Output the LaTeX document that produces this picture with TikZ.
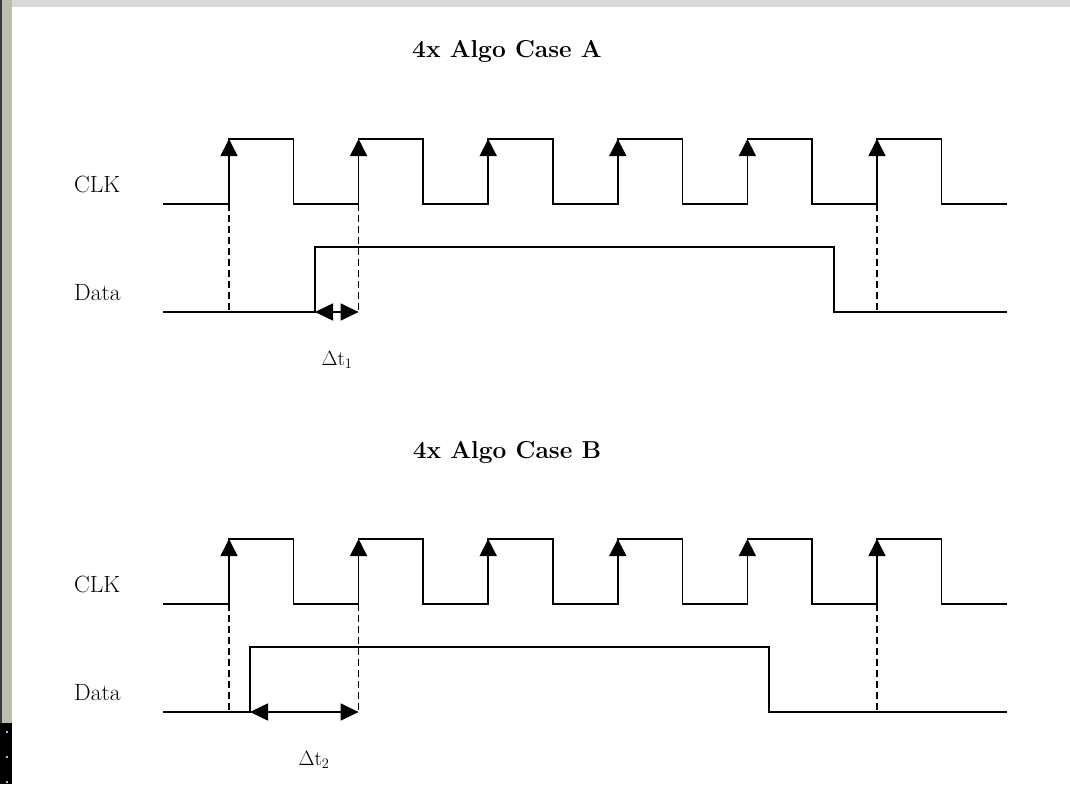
\documentclass[tikz,border=0pt]{standalone}
\usetikzlibrary{arrows.meta}
\definecolor{topband}{HTML}{D8D8D8}
\definecolor{sideband}{HTML}{BDBDAF}
\definecolor{sidedark}{HTML}{3A3A3A}
\begin{document}
\begin{tikzpicture}[x=1pt,y=-1pt,
  sig/.style={line width=1.6pt, line join=miter},
  guide/.style={line width=1.6pt, dash pattern=on 7pt off 4pt},
  edgearrow/.style={line width=1.6pt, -{Triangle[length=17pt,width=17pt]}},
  spanarrow/.style={line width=1.6pt, {Triangle[length=18pt,width=17pt]}-{Triangle[length=18pt,width=17pt]}},
  lbl/.style={font=\fontsize{23.5}{28}\selectfont, inner sep=0pt, anchor=base west},
  ttl/.style={font=\bfseries\fontsize{24.5}{29}\selectfont, inner sep=0pt, anchor=base},
  dtl/.style={font=\fontsize{21}{25}\selectfont, inner sep=0pt, anchor=base}]
\useasboundingbox (0,0) rectangle (1070,784);
\fill[white] (0,0) rectangle (1070,784);
% screenshot frame
\fill[topband] (0,0) rectangle (1070,7);
\fill[sideband] (0,0) rectangle (12,784);
\fill[sidedark] (0,0) rectangle (2,784);
\fill[black] (0,723) rectangle (12,784);
\fill[white] (7,732) circle (1.2pt) (7,757) circle (1.2pt) (7,782) circle (1.2pt);

\foreach \p/\oy/\dr/\df/\s/\dx in {A/0/315/834/1/337, B/400/250/769/2/314} {
  % title and labels
  \node[ttl] (\p-title) at (507,{58+\oy}) {4x Algo Case \p};
  \node[lbl] (\p-clk) at (74,{192+\oy}) {CLK};
  \node[lbl] (\p-data) at (74,{300+\oy}) {Data};
  % clock waveform
  \draw[sig] (163,{204+\oy})
    \foreach \k in {0,...,5} {
      -- ({229+129.6*\k},{204+\oy}) -- ({229+129.6*\k},{139+\oy})
      -- ({293.5+129.6*\k},{139+\oy}) -- ({293.5+129.6*\k},{204+\oy})
    } -- (1007,{204+\oy});
  \foreach \k in {0,...,5} {
    \coordinate (\p-r\k-lo) at ({229+129.6*\k},{204+\oy});
    \coordinate (\p-r\k-hi) at ({229+129.6*\k},{139+\oy});
    \coordinate (\p-r\k-d) at ({229+129.6*\k},{312+\oy});
    \draw[edgearrow] (\p-r\k-lo) -- (\p-r\k-hi);
  }
  % data waveform
  \draw[sig] (163,{312+\oy}) -- (\dr,{312+\oy}) -- (\dr,{247+\oy})
    -- (\df,{247+\oy}) -- (\df,{312+\oy}) -- (1007,{312+\oy});
  \coordinate (\p-drise) at (\dr,{312+\oy});
  % dashed guides
  \draw[guide] (\p-r0-lo) -- (\p-r0-d);
  \draw[guide] (\p-r1-lo) -- (\p-r1-d);
  \draw[guide] (\p-r5-lo) -- (\p-r5-d);
  % delta t
  \draw[spanarrow] (\p-drise) -- (\p-r1-d);
  \node[dtl] (\p-dt) at (\dx,{365+\oy}) {$\Delta$t$_\s$};
}
\end{tikzpicture}
\end{document}
